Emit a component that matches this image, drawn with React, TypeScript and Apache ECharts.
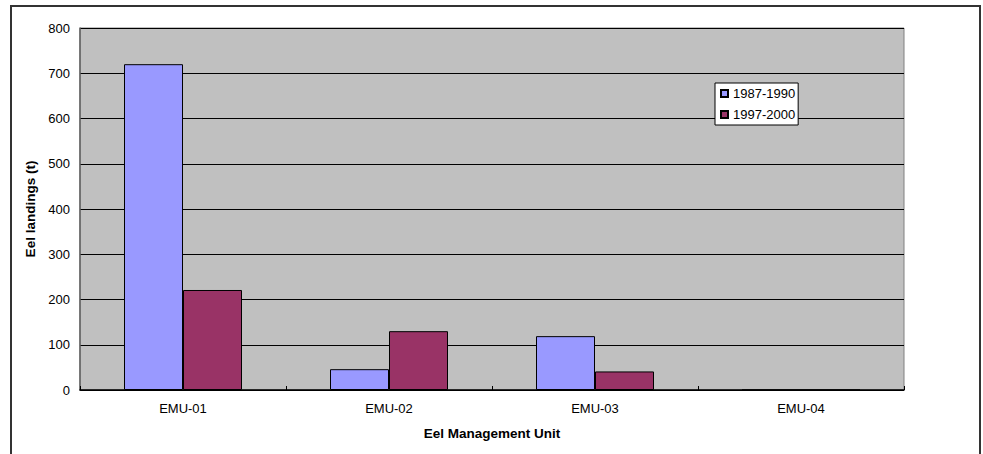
import React, { useEffect, useRef } from "react";
import * as echarts from "echarts";

const categories = ["EMU-01", "EMU-02", "EMU-03", "EMU-04"];
const seriesNames = ["1987-1990", "1997-2000"];
const values1987 = [720, 46, 119, 0];
const values1997 = [221, 130, 41, 0];
const yTicks = { min: 0, max: 800, interval: 100 };

const FONT = "Arial, 'Liberation Sans', sans-serif";

export default function App() {
  const ref = useRef<HTMLDivElement>(null);
  useEffect(() => {
    if (!ref.current) return;
    const chart = echarts.init(ref.current, undefined, { renderer: "svg" });
    chart.setOption({
      animation: false,
      backgroundColor: "#ffffff",
      textStyle: { fontFamily: FONT },
      graphic: [
        {
          type: "rect",
          shape: { x: 11, y: 6, width: 969, height: 470 },
          style: { fill: "none", stroke: "#333333", lineWidth: 2 },
          silent: true,
          z: -1,
        },
      ],
      grid: {
        left: 80,
        right: 79,
        top: 28,
        bottom: 64,
        show: true,
        backgroundColor: "#C0C0C0",
        borderColor: "#808080",
        borderWidth: 1,
      },
      legend: {
        orient: "vertical",
        left: 715,
        top: 83,
        data: seriesNames,
        backgroundColor: "#ffffff",
        borderColor: "#000000",
        borderWidth: 1,
        padding: [4, 3, 4, 5],
        itemGap: 8,
        itemWidth: 7,
        itemHeight: 7,
        icon: "rect",
        textStyle: { fontSize: 13, color: "#000", fontFamily: FONT, padding: [0, 0, 0, 0] },
      },
      xAxis: {
        type: "category",
        data: categories,
        name: "Eel Management Unit",
        nameLocation: "middle",
        nameGap: 36,
        nameTextStyle: { fontSize: 13.5, fontWeight: "bold", color: "#000", fontFamily: FONT },
        axisLine: { show: true, lineStyle: { color: "#000", width: 1.5 } },
        axisTick: { show: true, inside: true, length: 4, lineStyle: { color: "#000" } },
        axisLabel: { fontSize: 13, color: "#000", margin: 12, fontFamily: FONT },
        splitLine: { show: false },
      },
      yAxis: {
        type: "value",
        min: yTicks.min,
        max: yTicks.max,
        interval: yTicks.interval,
        name: "Eel landings (t)",
        nameLocation: "middle",
        nameGap: 36,
        nameTextStyle: { fontSize: 13.5, fontWeight: "bold", color: "#000", fontFamily: FONT },
        axisLine: { show: true, lineStyle: { color: "#606060", width: 1.5 } },
        axisTick: { show: false },
        axisLabel: { fontSize: 13, color: "#000", margin: 10, fontFamily: FONT },
        splitLine: { show: true, lineStyle: { color: "#000", width: 1 } },
      },
      series: [
        {
          name: seriesNames[0],
          type: "bar",
          data: values1987,
          barWidth: 59,
          barGap: "0%",
          itemStyle: { color: "#9999FF", borderColor: "#000", borderWidth: 1 },
        },
        {
          name: seriesNames[1],
          type: "bar",
          data: values1997,
          barWidth: 59,
          barGap: "0%",
          itemStyle: { color: "#993366", borderColor: "#000", borderWidth: 1 },
        },
      ],
    });
    return () => chart.dispose();
  }, []);
  return (
    <div
      ref={ref}
      style={{ position: "fixed", left: 0, top: 0, width: 983, height: 454 }}
    />
  );
}
